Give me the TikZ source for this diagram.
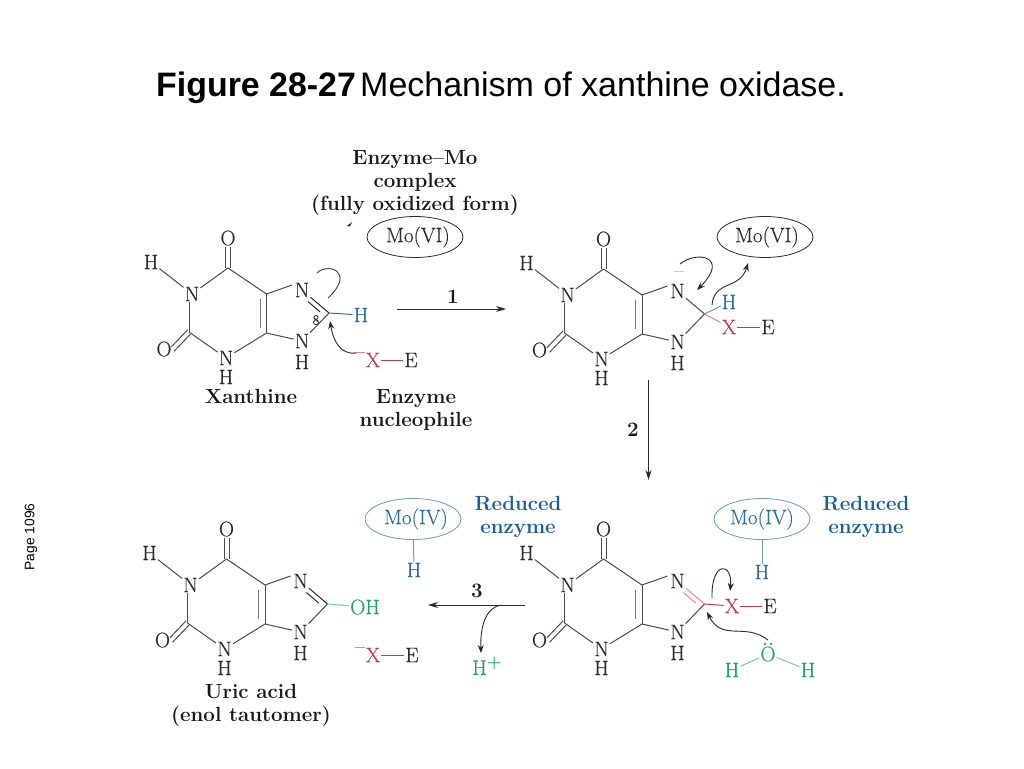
\documentclass[tikz,border=0pt]{standalone}
\usepackage{fontspec}
\usetikzlibrary{arrows.meta,calc,shapes.geometric}
\newfontfamily\sansfam{Liberation Sans}
\newfontfamily\chemfont[FakeBold=0.2]{Latin Modern Roman}
\definecolor{inkc}{HTML}{2B2B2B}
\definecolor{lightc}{HTML}{777777}
\definecolor{bluec}{HTML}{2F6F9A}
\definecolor{darkblue}{HTML}{1F5E91}
\definecolor{blueline}{HTML}{6E9BB5}
\definecolor{redc}{HTML}{C23A52}
\definecolor{redline}{HTML}{E08A98}
\definecolor{greenc}{HTML}{1FA35F}
\definecolor{greenline}{HTML}{7CC9A0}
\tikzset{
  x=1pt,y=-1pt,
  atom/.style={inner sep=1pt,text=inkc,font=\chemfont\fontsize{21}{23}\selectfont},
  bluea/.style={atom,text=bluec},
  reda/.style={atom,text=redc},
  greena/.style={atom,text=greenc},
  heading/.style={inner sep=0pt,align=center,text=black!90,font=\fontsize{20.5}{23}\selectfont\bfseries},
  bond/.style={draw=inkc!85,line width=1pt},
  inner bond/.style={draw=lightc,line width=1pt},
  curly/.style={draw=inkc,line width=0.9pt,-{Stealth[length=8pt,width=6pt]}},
  react/.style={draw=inkc,line width=0.9pt,-{Stealth[length=10pt,width=6pt]}},
  moval/.style={draw=inkc,line width=0.8pt,ellipse,minimum width=96pt,minimum height=41pt,inner sep=0pt},
}
% purine skeleton: name, dx, dy
\newcommand{\purineCore}[3]{%
 \begin{scope}[shift={(#2,#3)}]
  \coordinate (#1-C6) at (228,268);
  \coordinate (#1-C2) at (189,332);
  \coordinate (#1-C4) at (266.5,333);
  \coordinate (#1-C5) at (266.5,294);
  \coordinate (#1-C8) at (329,313);
  \node[atom] (#1-O6) at (228,238) {O};
  \node[atom] (#1-N1) at (192,294) {N};
  \node[atom] (#1-H1) at (151,262) {H};
  \node[atom] (#1-O2) at (164,349) {O};
  \node[atom] (#1-N3) at (226,358) {N};
  \node[atom] (#1-H3) at (226,377) {H};
  \node[atom] (#1-N7) at (302,290) {N};
  \node[atom] (#1-N9) at (302,341) {N};
  \node[atom] (#1-H9) at (302,362) {H};
 \end{scope}
 \draw[bond] (#1-N1)--(#1-H1);
 \draw[bond] (#1-C6)--(#1-N1);
 \draw[bond] (#1-C2 |- #1-N1.south)--(#1-C2);
 \draw[bond] (#1-C2)--(#1-N3);
 \draw[bond] (#1-N3)--(#1-C4);
 \draw[bond] (#1-C4)--(#1-C5);
 \draw[bond] (#1-C5)--(#1-C6);
 \draw[bond] (#1-C5)--([xshift=-10pt,yshift=5pt]#1-N7.center);
 \draw[bond] (#1-C4)--(#1-N9);
 \draw[bond] (#1-N9)--(#1-C8);
 \draw[bond] ([xshift=-2.5pt]#1-C6)--([xshift=-2.5pt]#1-O6.south);
 \draw[bond] ([xshift=2.5pt]#1-C6)--([xshift=2.5pt]#1-O6.south);
 \draw[bond] ([xshift=1.4pt,yshift=-2.2pt]#1-C2)--([xshift=1.4pt,yshift=-2.2pt]#1-O2.east);
 \draw[bond] ([xshift=-1.4pt,yshift=2.2pt]#1-C2)--([xshift=-1.4pt,yshift=2.2pt]#1-O2.east);
 \draw[inner bond] ([xshift=-6.5pt,yshift=5pt]#1-C4)--([xshift=-6.5pt,yshift=-5pt]#1-C5);
}
% the N7=C8 double bond: name, outer colour
\newcommand{\dblbond}[2]{%
 \draw[line width=1pt,draw=#2] (#1-N7)--(#1-C8);
 \draw[line width=1pt,draw=#2] ($(#1-N7)!.35!(#1-C8)+(-3.5,3.5)$)--($(#1-N7)!.8!(#1-C8)+(-3.5,3.5)$);
}
\begin{document}
\begin{tikzpicture}
\useasboundingbox[fill=white] (0,0) rectangle (1024,768);
% title
\node[anchor=base west,inner sep=0pt,text=black,font=\sansfam\fontsize{33.9}{36}\selectfont\bfseries] (figno) at (156,96) {Figure 28-27};
\node[anchor=base west,inner sep=0pt,text=black,font=\sansfam\fontsize{34}{36}\selectfont] (figname) at (360,96) {Mechanism of xanthine oxidase.};
\node[rotate=90,inner sep=0pt,text=black,font=\sansfam\fontsize{13.8}{15}\selectfont] (page) at (31,537) {Page 1096};

% ---------- Xanthine
\purineCore{a}{0}{0}
\dblbond{a}{inkc}
\node[bluea] (a-H) at (361,315) {H};
\draw[draw=bluec,line width=1pt] (a-C8)--(a-H);
\node[inner sep=0pt,text=inkc,font=\chemfont\fontsize{14}{15}\selectfont] (a-8) at (316,320) {8};
\coordinate (a-s1) at (317,273);
\coordinate (a-e1) at (328,298);
\draw[bond] (a-s1) .. controls (328,262) and (356,272) .. (a-e1);
\node[reda] (a-X) at (373,360) {X};
\node[atom] (a-E) at (411,360) {E};
\node[reda,inner sep=0pt] (a-m) at (360,355) {–};
\draw[draw=redc,line width=1pt] (a-X)--(a-E);
\coordinate (a-s2) at (356,353);
\coordinate (a-e2) at (330,321);
\draw[curly] (a-s2) .. controls (340,355) and (333,340) .. (a-e2);
\node[heading] (t-enzmo) at (415,183) {Enzyme–Mo\\complex\\(fully oxidized form)};
\node[moval] (mo1) at (415,237) {};
\node[atom] (mo1t) at (418,237) {Mo(VI)};
\fill[inkc] (347,226)--(352,222)--(350,226.5)--cycle;
\node[heading] (t-xan) at (251,396) {Xanthine};
\node[heading] (t-nuc) at (416,410.5) {Enzyme\\nucleophile};

% ---------- step 1
\coordinate (s1a) at (397,309);
\coordinate (s1b) at (506,309);
\draw[react] (s1a)--(s1b);
\node[heading] (n1) at (453,297) {1};

% ---------- intermediate
\purineCore{b}{375.5}{1}
\draw[bond] (b-N7)--(b-C8);
\node[bluea] (b-H) at (729,302) {H};
\node[reda] (b-X) at (729,327) {X};
\node[atom] (b-E) at (768,327) {E};
\draw[draw=blueline,line width=1pt] (b-C8)--(b-H);
\draw[draw=redline,line width=1pt] (b-C8)--(b-X);
\draw[draw=redc,line width=1pt] (b-X)--(b-E);
\node[reda,inner sep=0pt,text=redline] (b-m) at (679,274) {–};
\coordinate (b-s1) at (680,264);
\coordinate (b-e1) at (697,290);
\draw[curly] (b-s1) .. controls (697,250) and (730,257) .. (b-e1);
\node[moval] (mo2) at (765,237) {};
\node[atom] (mo2t) at (767,237) {Mo(VI)};
\coordinate (b-s2) at (712,305);
\coordinate (b-e2) at (748,263);
\draw[curly] (b-s2) .. controls (714,280) and (740,290) .. (b-e2);

% ---------- step 2
\coordinate (s2a) at (648.5,380);
\coordinate (s2b) at (648.5,480);
\draw[react] (s2a)--(s2b);
\node[heading] (n2) at (633,430) {2};

% ---------- lower right
\purineCore{c}{375.5}{291}
\dblbond{c}{redline}
\node[reda] (c-X) at (732,606) {X};
\node[atom] (c-E) at (770,606) {E};
\draw[draw=redc,line width=1pt] (c-C8)--(c-X);
\draw[draw=redc,line width=1pt] (c-X)--(c-E);
\node[moval,draw=blueline] (mo3) at (762,519) {};
\node[bluea] (mo3t) at (762,519) {Mo(IV)};
\node[bluea] (c-H) at (762,572) {H};
\draw[draw=blueline,line width=1pt] (mo3)--(c-H);
\node[heading,text=darkblue] (t-red2) at (866,517) {Reduced\\enzyme};
\coordinate (c-s1) at (712,598);
\coordinate (c-e1) at (730,591);
\draw[curly] (c-s1) .. controls (711,560) and (733,562) .. (c-e1);
\node[greena] (w-O) at (768,654) {O};
\fill[greenc] (765,644) circle (1.3pt) (771,644) circle (1.3pt);
\node[greena] (w-H1) at (732,670) {H};
\node[greena] (w-H2) at (808,670) {H};
\draw[draw=greenline,line width=1pt] (w-O)--(w-H1);
\draw[draw=greenline,line width=1pt] (w-O)--(w-H2);
\coordinate (w-s) at (768,640);
\coordinate (w-e) at (707,612);
\draw[curly] (w-s) .. controls (745,622) and (722,642) .. (w-e);

% ---------- step 3
\coordinate (s3a) at (525,605);
\coordinate (s3b) at (428,605);
\draw[react] (s3a)--(s3b);
\node[heading] (n3) at (477,591) {3};
\coordinate (s3c) at (501,605);
\node[greena] (hp) at (487,666) {H\raisebox{7pt}{\normalfont\fontsize{17}{18}\selectfont\bfseries +}};
\coordinate (s3d) at (481,653);
\draw[curly] (s3c) .. controls (488,607) and (480,622) .. (s3d);

% ---------- Uric acid
\purineCore{d}{-1.5}{291}
\dblbond{d}{inkc}
\node[greena] (d-OH) at (365,607) {OH};
\draw[draw=greenline,line width=1pt] (d-C8)--(d-OH);
\node[reda] (d-X) at (373,655) {X};
\node[atom] (d-E) at (412,655) {E};
\node[reda,inner sep=0pt] (d-m) at (360,650) {–};
\draw[draw=redc,line width=1pt] (d-X)--(d-E);
\node[moval,draw=blueline] (mo4) at (413,519) {};
\node[bluea] (mo4t) at (416,519) {Mo(IV)};
\node[bluea] (d-H) at (414,570) {H};
\draw[draw=blueline,line width=1pt] (mo4)--(d-H);
\node[heading,text=darkblue] (t-red1) at (518,517) {Reduced\\enzyme};
\node[heading] (t-uric) at (251,705.5) {Uric acid\\(enol tautomer)};
\end{tikzpicture}
\end{document}
